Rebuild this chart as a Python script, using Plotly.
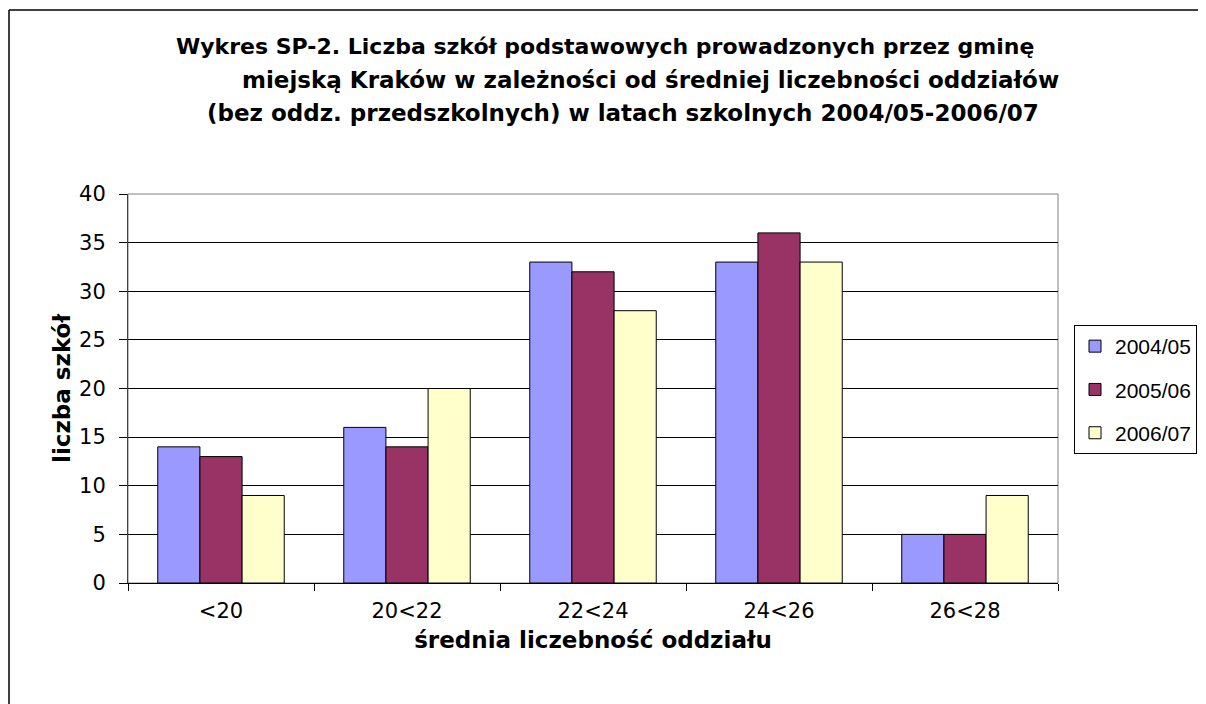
import plotly.graph_objects as go

categories = ["<20", "20<22", "22<24", "24<26", "26<28"]
series_names = ["2004/05", "2005/06", "2006/07"]
values_2004 = [14, 16, 33, 33, 5]
values_2005 = [13, 14, 32, 36, 5]
values_2006 = [9, 20, 28, 33, 9]
colors = ["#9999FF", "#993366", "#FFFFCC"]

title_lines = [
    "Wykres SP-2. Liczba szkół podstawowych prowadzonych przez gminę",
    "miejską Kraków w zależności od średniej liczebności oddziałów",
    "(bez oddz. przedszkolnych) w latach szkolnych 2004/05-2006/07",
]
y_title = "liczba szkół"
x_title = "średnia liczebność oddziału"

FONT = "DejaVu Sans, Liberation Sans, Arial, sans-serif"
LEG_FONT = "Liberation Sans, Arial, sans-serif"
OFF = 8  # page body margin
W, H = 1206 - OFF, 704 - OFF
L, R, T, B = 128 - OFF, 1058 - OFF, 194 - OFF, 583 - OFF
pw, ph = R - L, B - T

def px(x):
    return (x - OFF - L) / pw

def py(y):
    return (B - (y - OFF)) / ph

fig = go.Figure()
for i, (name, vals) in enumerate(zip(series_names, [values_2004, values_2005, values_2006])):
    fig.add_trace(go.Bar(
        x=categories, y=vals, name=name, legendgroup=name,
        marker=dict(color=colors[i], line=dict(color="black", width=1)),
    ))

annotations = []
for line, cx, cy, fs in zip(title_lines, [605, 650, 623], [47, 80, 113], [22, 23, 23]):
    annotations.append(dict(
        text="<b>" + line + "</b>", x=px(cx), y=py(cy), xref="paper", yref="paper",
        xanchor="center", yanchor="middle", showarrow=False,
        font=dict(family=FONT, size=fs, color="black"),
    ))

fig.update_layout(
    width=W, height=H, autosize=False,
    margin=dict(l=L, r=W - R, t=T, b=H - B, pad=0, autoexpand=False),
    paper_bgcolor="white", plot_bgcolor="white",
    font=dict(family=FONT, size=21, color="black"),
    barmode="group", bargap=0.32, bargroupgap=0,
    showlegend=True,
    legend=dict(
        x=px(1074), y=py(325), xanchor="left", yanchor="top",
        bordercolor="black", borderwidth=1, bgcolor="white",
        font=dict(family=LEG_FONT, size=21, color="black"),
        tracegroupgap=13, itemwidth=30,
    ),
    annotations=annotations,
    shapes=[
        dict(type="rect", xref="paper", yref="paper", x0=0, x1=1, y0=0, y1=1,
             line=dict(color="#808080", width=1), layer="below"),
        dict(type="line", xref="paper", yref="paper", x0=px(9), x1=px(9), y0=py(10), y1=py(720),
             line=dict(color="black", width=1.5)),
        dict(type="line", xref="paper", yref="paper", x0=px(9), x1=px(1220), y0=py(10), y1=py(10),
             line=dict(color="black", width=1.5)),
    ],
    xaxis=dict(
        showline=True, linecolor="black", linewidth=1,
        ticks="outside", tickson="boundaries", ticklen=7, tickcolor="black",
        tickfont=dict(family=FONT, size=21, color="black"),
        ticklabelstandoff=9,
        title=dict(text="<b>" + x_title + "</b>", font=dict(family=FONT, size=23), standoff=9),
        showgrid=False,
    ),
    yaxis=dict(
        range=[0, 40], dtick=5, tick0=0,
        showline=True, linecolor="#404040", linewidth=1,
        ticks="outside", ticklen=8, tickcolor="black",
        tickfont=dict(family=FONT, size=21, color="black"),
        ticklabelstandoff=9,
        showgrid=True, gridcolor="black", gridwidth=1,
        zeroline=False,
        title=dict(text="<b>" + y_title + "</b>", font=dict(family=FONT, size=23), standoff=2),
    ),
)

fig.write_html("out.html")
